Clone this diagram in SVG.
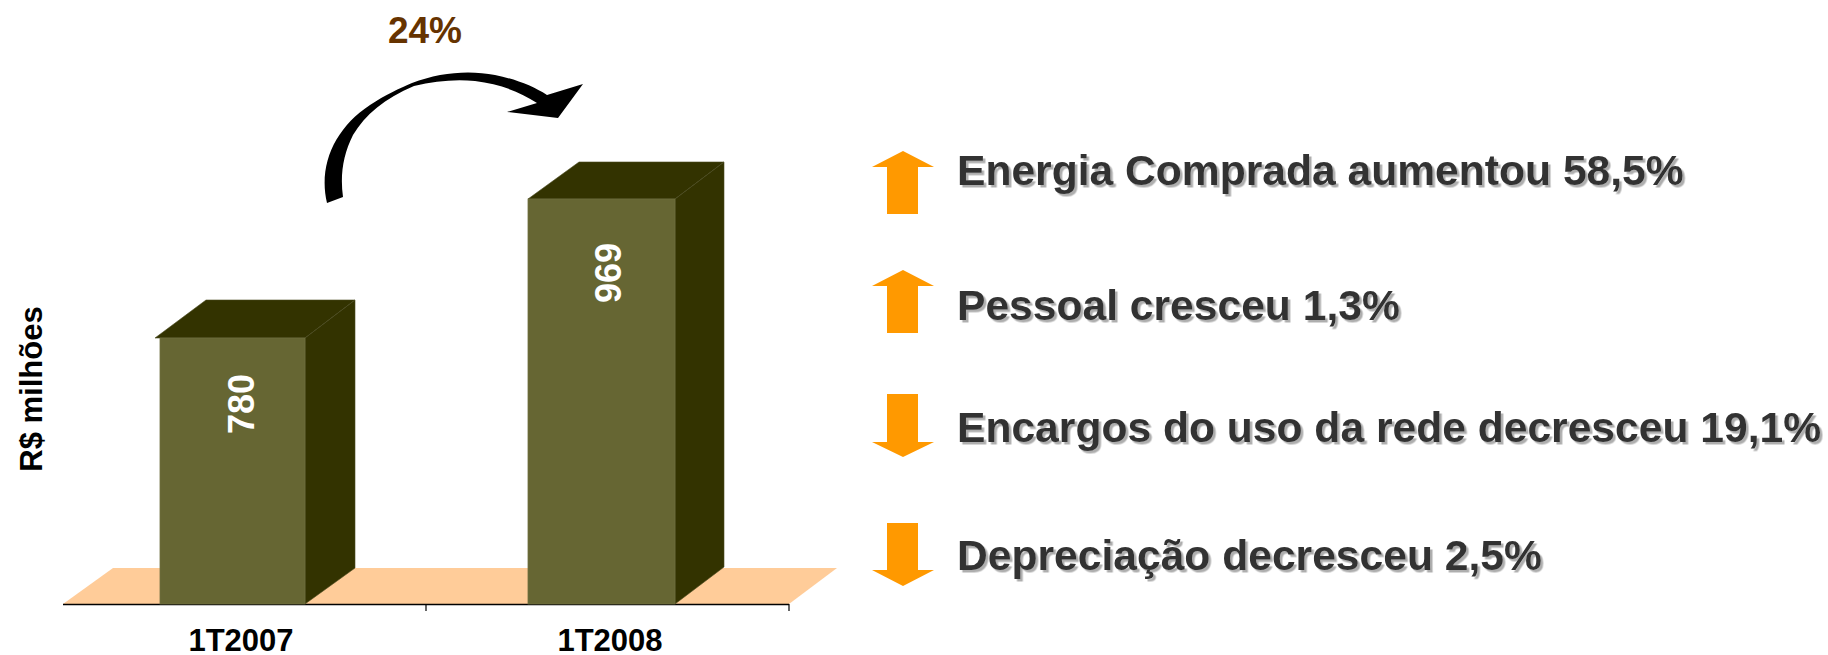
<svg xmlns="http://www.w3.org/2000/svg" width="1828" height="655" viewBox="0 0 1828 655">
<defs>
<style>
.front{fill:#666633;stroke:#6f6f40;stroke-width:0.8}
.dark{fill:#333300;stroke:#4a4a20;stroke-width:0.6}
.val{font-family:"Liberation Sans",Arial,sans-serif;font-weight:bold;font-size:36px;fill:#ffffff;text-anchor:middle}
.axis{font-family:"Liberation Sans",Arial,sans-serif;font-weight:bold;font-size:31px;fill:#000000;text-anchor:middle}
.item{font-family:"Liberation Sans",Arial,sans-serif;font-weight:bold;font-size:42.6px;fill:#333333;filter:url(#sh)}
.oarrow{fill:#ff9900}
</style>
<filter id="sh" x="-5%" y="-20%" width="110%" height="150%">
<feDropShadow dx="2.5" dy="2.5" stdDeviation="0.6" flood-color="#9a9a9a" flood-opacity="0.8"/>
</filter>
</defs>
<rect width="1828" height="655" fill="#ffffff"/>

<g id="floor">
<polygon points="63,604 113,568 837,568 789,604" fill="#ffcc99"/>
<line x1="63" y1="604.5" x2="789" y2="604.5" stroke="#000000" stroke-width="1.5"/>
<line x1="426" y1="604" x2="426" y2="611" stroke="#000000" stroke-width="1.2"/>
<line x1="789" y1="604" x2="789" y2="611" stroke="#000000" stroke-width="1.2"/>
</g>

<g id="yaxis-label">
<text transform="translate(42,389) rotate(-90)" x="0" y="0" class="axis" font-size="36">R$ milhões</text>
</g>

<g id="bar-1T2007">
<polygon class="dark" points="155,338 206,300 355,300 305,338"/>
<polygon class="dark" points="305,338 355,300 355,568 305,604"/>
<rect class="front" x="160" y="338" width="145" height="266"/>
<text class="val" transform="translate(254,404) rotate(-90)">780</text>
<text class="axis" x="241" y="651">1T2007</text>
</g>

<g id="bar-1T2008">
<polygon class="dark" points="528,199 579,162 724,162 675,199"/>
<polygon class="dark" points="675,199 724,162 724,567 675,604"/>
<rect class="front" x="528" y="199" width="147" height="405"/>
<text class="val" transform="translate(621,273) rotate(-90)">969</text>
<text class="axis" x="610" y="651">1T2008</text>
</g>

<g id="connectors">
<path d="M 327,203 C 318,165 335,128 370,105 C 385,95 400,88 412,83 C 440,72 470,70 495,75 C 515,79 533,86 547,95 L 583,84 L 558,118 L 507,112 L 537,103 C 520,92 500,84 475,81 C 455,79 435,81 414,86 C 385,98 365,115 353,135 C 343,155 340,175 343,197 Z" fill="#000000"/>
</g>

<g id="growth-label">
<text x="425" y="43" font-family="Liberation Sans, Arial, sans-serif" font-weight="bold" font-size="37" fill="#663300" text-anchor="middle">24%</text>
</g>

<g id="item-energia">
<polygon class="oarrow" points="903,151 934,167 918,167 918,214 887,214 887,167 872,167"/>
<text class="item" x="957" y="185">Energia Comprada aumentou 58,5%</text>
</g>

<g id="item-pessoal">
<polygon class="oarrow" points="903,270 934,286 918,286 918,333 887,333 887,286 872,286"/>
<text class="item" x="957" y="320">Pessoal cresceu 1,3%</text>
</g>

<g id="item-encargos">
<polygon class="oarrow" points="887,394 918,394 918,442 934,442 903,457 872,442 887,442"/>
<text class="item" x="957" y="442">Encargos do uso da rede decresceu 19,1%</text>
</g>

<g id="item-depreciacao">
<polygon class="oarrow" points="887,523 918,523 918,570 934,570 903,586 872,570 887,570"/>
<text class="item" x="957" y="570">Depreciação decresceu 2,5%</text>
</g>
</svg>
